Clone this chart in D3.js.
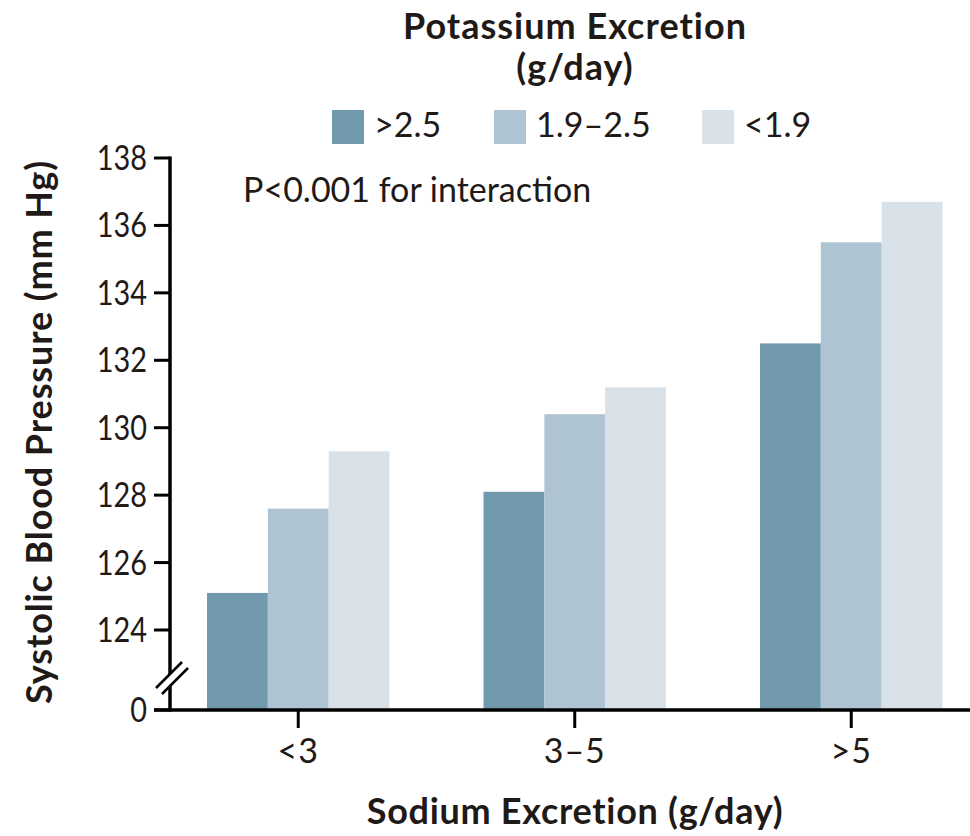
<!DOCTYPE html>
<html>
<head>
<meta charset="utf-8">
<script src="https://cdn.jsdelivr.net/npm/d3@7"></script>
<style>
  html, body { margin: 0; padding: 0; background: #fff; }
  svg { display: block; }
  text { font-family: Lato, "Open Sans", sans-serif; fill: #1f1a17; }
</style>
</head>
<body>
<svg id="chart" width="970" height="836"></svg>
<script>
// Sodium excretion groups (x axis)
const sodiumGroups = ["<3", "3\u20135", ">5"];
// Potassium excretion levels (series)
const potassiumLevels = [">2.5", "1.9\u20132.5", "<1.9"];
// Mean systolic blood pressure, mm Hg, per sodium group, one array per potassium level
const sbpHigh = [125.1, 128.1, 132.5];   // >2.5 g/day
const sbpMid  = [127.6, 130.4, 135.5];   // 1.9–2.5 g/day
const sbpLow  = [129.3, 131.2, 136.7];   // <1.9 g/day
const seriesValues = [sbpHigh, sbpMid, sbpLow];
// Y ticks above the axis break, plus the zero baseline below it
const yTicks = [124, 126, 128, 130, 132, 134, 136, 138];
const zeroTick = 0;
const colors = ["#7099ae", "#aec4d3", "#d8e0e8"];

const svg = d3.select("#chart");

function label(x, y, str, size, weight, anchor, sx, spacing) {
  return svg.append("text")
    .attr("transform", `translate(${x},${y}) scale(${sx || 1},1)`)
    .attr("text-anchor", anchor || "start")
    .attr("font-size", size)
    .attr("font-weight", weight || 400)
    .attr("letter-spacing", spacing || 0)
    .text(str);
}

const axisX = 170, baseY = 710;

const x0 = d3.scaleBand().domain(sodiumGroups).range([160, 989.5])
  .paddingInner(0.34).paddingOuter(0.17);
const x1 = d3.scaleBand().domain(potassiumLevels).range([0, x0.bandwidth()]);
const y = d3.scaleLinear().domain([124, 138]).range([630, 158]);

// Bars start at the zero baseline (below the break) and rise to their value
const rows = sodiumGroups.flatMap((g, gi) =>
  potassiumLevels.map((k, ki) => ({ g, k, ki, v: seriesValues[ki][gi] })));

svg.append("g").selectAll("rect").data(rows).join("rect")
  .attr("x", d => x0(d.g) + x1(d.k))
  .attr("width", x1.bandwidth())
  .attr("y", d => y(d.v))
  .attr("height", d => baseY - y(d.v))
  .attr("fill", d => colors[d.ki]);

// Y axis
svg.append("line").attr("x1", axisX).attr("x2", axisX)
  .attr("y1", y(138) - 1.5).attr("y2", baseY + 1.5)
  .attr("stroke", "#000").attr("stroke-width", 3.5);
const tickYs = yTicks.map(t => ({ t, py: y(t) })).concat([{ t: zeroTick, py: baseY }]);
svg.append("g").selectAll("line").data(tickYs).join("line")
  .attr("x1", 154).attr("x2", axisX).attr("y1", d => d.py).attr("y2", d => d.py)
  .attr("stroke", "#000").attr("stroke-width", 3);
tickYs.forEach(d => label(147, d.py + 12, String(d.t), 34, 400, "end", 0.85));

// Axis break marks
svg.append("path")
  .attr("d", "M156,688 L182,662 L188,668 L162,694 Z")
  .attr("fill", "#fff");
svg.append("path").attr("d", "M156,688 L182,662 M162,694 L188,668")
  .attr("stroke", "#000").attr("stroke-width", 2.5).attr("fill", "none");

// X axis
svg.append("line").attr("x1", 154).attr("x2", 970)
  .attr("y1", baseY).attr("y2", baseY)
  .attr("stroke", "#000").attr("stroke-width", 3.5);
sodiumGroups.forEach(g => {
  const cx = x0(g) + x0.bandwidth() / 2;
  svg.append("line").attr("x1", cx).attr("x2", cx).attr("y1", baseY).attr("y2", 728)
    .attr("stroke", "#000").attr("stroke-width", 3);
  label(cx, 763, g, 34, 400, "middle", 1, 1);
});

// Axis titles
label(575, 824, "Sodium Excretion (g/day)", 36, 700, "middle", 1, 0.7);
svg.append("text")
  .attr("transform", "translate(52,432) rotate(-90)")
  .attr("text-anchor", "middle").attr("font-size", 36).attr("font-weight", 700)
  .attr("letter-spacing", 0.9)
  .text("Systolic Blood Pressure (mm Hg)");

// Legend
label(575, 39, "Potassium Excretion", 36, 700, "middle", 1, 1);
label(575, 80, "(g/day)", 36, 700, "middle", 1, 1);
const legendX = [332, 494, 702];
potassiumLevels.forEach((k, i) => {
  svg.append("rect").attr("x", legendX[i]).attr("y", 110)
    .attr("width", 32).attr("height", 34).attr("fill", colors[i]);
  label(legendX[i] + 42, 137, k, 34, 400, "start", 1);
});

// Interaction note
label(243, 202, "P<0.001 for interaction", 34, 400, "start", 1);
</script>
</body>
</html>
